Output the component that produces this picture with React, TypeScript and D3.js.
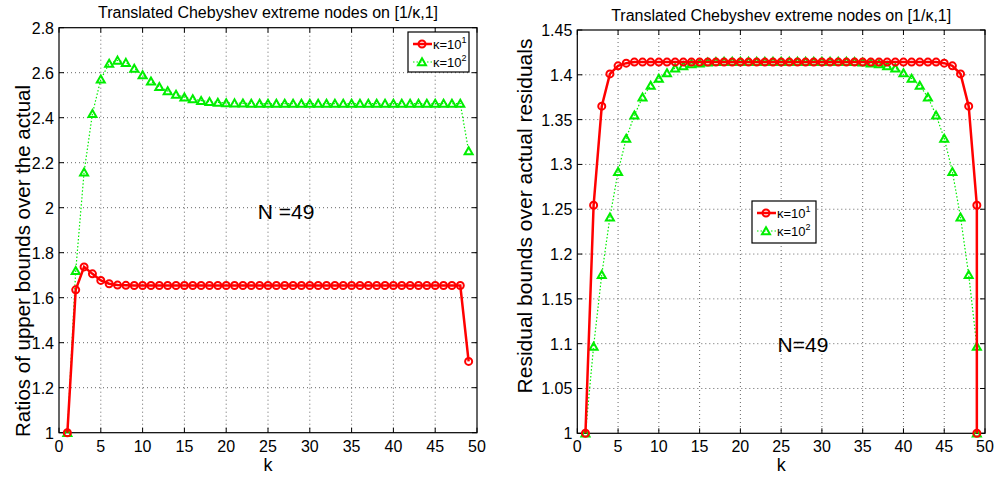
import React from 'react'
import * as d3 from 'd3'

const FONT = '"Liberation Sans", Arial, Helvetica, sans-serif'

// x positions (k)
const leftK = d3.range(1, 50)
const rightK = [...d3.range(1, 50), 49]

// left panel: ratios of upper bounds over the actual
const leftKappa10 = [
  1.0, 1.635, 1.737, 1.706, 1.677, 1.662, 1.656, 1.655, 1.654, 1.654,
  1.654, 1.654, 1.654, 1.654, 1.654, 1.654, 1.654, 1.654, 1.654, 1.654,
  1.654, 1.654, 1.654, 1.654, 1.654, 1.654, 1.654, 1.654, 1.654, 1.654,
  1.654, 1.654, 1.654, 1.654, 1.654, 1.654, 1.654, 1.654, 1.654, 1.654,
  1.654, 1.654, 1.654, 1.654, 1.654, 1.654, 1.654, 1.654, 1.317,
]
const leftKappa100 = [
  1.0, 1.72, 2.158, 2.418, 2.571, 2.641, 2.655, 2.645, 2.619, 2.59,
  2.562, 2.538, 2.519, 2.503, 2.491, 2.483, 2.476, 2.471, 2.468, 2.466,
  2.465, 2.464, 2.463, 2.463, 2.463, 2.463, 2.463, 2.463, 2.463, 2.463,
  2.463, 2.463, 2.463, 2.463, 2.463, 2.463, 2.463, 2.463, 2.463, 2.463,
  2.463, 2.463, 2.463, 2.463, 2.463, 2.463, 2.463, 2.463, 2.252,
]
const leftYTicks = [1, 1.2, 1.4, 1.6, 1.8, 2, 2.2, 2.4, 2.6, 2.8]

// right panel: residual bounds over actual residuals
const rightKappa10 = [
  1.0, 1.2545, 1.365, 1.401, 1.41, 1.413, 1.4142, 1.4142, 1.4142, 1.4142,
  1.4142, 1.4142, 1.4142, 1.4142, 1.4142, 1.4142, 1.4142, 1.4142, 1.4142, 1.4142,
  1.4142, 1.4142, 1.4142, 1.4142, 1.4142, 1.4142, 1.4142, 1.4142, 1.4142, 1.4142,
  1.4142, 1.4142, 1.4142, 1.4142, 1.4142, 1.4142, 1.4142, 1.4142, 1.4142, 1.4142,
  1.4142, 1.4142, 1.4142, 1.4142, 1.413, 1.41, 1.401, 1.365, 1.2545, 1.0,
]
const rightKappa100 = [
  1.0, 1.097, 1.177, 1.241, 1.292, 1.329, 1.355, 1.375, 1.388, 1.396,
  1.402, 1.4075, 1.41, 1.412, 1.413, 1.414, 1.4145, 1.415, 1.415, 1.415,
  1.415, 1.415, 1.415, 1.415, 1.415, 1.415, 1.415, 1.415, 1.415, 1.415,
  1.415, 1.415, 1.415, 1.4145, 1.414, 1.413, 1.412, 1.41, 1.4075, 1.402,
  1.396, 1.388, 1.375, 1.355, 1.329, 1.292, 1.241, 1.177, 1.097, 1.0,
]
const rightYTicks = [1, 1.05, 1.1, 1.15, 1.2, 1.25, 1.3, 1.35, 1.4, 1.45]

const xTicks = [0, 5, 10, 15, 20, 25, 30, 35, 40, 45, 50]
const title = 'Translated Chebyshev extreme nodes on [1/\u03ba,1]'

const RED = '#ff0000'
const GREEN = '#00ee00'

const tri = 'M0,-3.7L4,3.3L-4,3.3Z'

function Legend({ x, y, w, h }) {
  return (
    <g transform={`translate(${x},${y})`} fontFamily={FONT}>
      <rect width={w} height={h} fill="#fff" stroke="#000" strokeWidth={1.2} />
      <line x1={5} x2={24} y1={12} y2={12} stroke={RED} strokeWidth={2.5} />
      <circle cx={14} cy={12} r={3.5} fill="none" stroke={RED} strokeWidth={2} />
      <text x={25} y={17} fontSize={13}>
        {'\u03ba=10'}
        <tspan fontSize={9} dy={-6}>1</tspan>
      </text>
      <line x1={5} x2={24} y1={30} y2={30} stroke={GREEN} strokeWidth={1.2} strokeDasharray="1.5,2" />
      <path d={tri} transform={`translate(14,30)`} fill="none" stroke={GREEN} strokeWidth={2} />
      <text x={25} y={35} fontSize={13}>
        {'\u03ba=10'}
        <tspan fontSize={9} dy={-6}>2</tspan>
      </text>
    </g>
  )
}

function Panel({ x0, x1, yTop, yBot, yDomain, yTicks, k10, v10, k100, v100, yLabel, yLabelX, yLabelY, yLabelSize, titleY, legend, note }) {
  const x = d3.scaleLinear().domain([0, 50]).range([x0, x1])
  const y = d3.scaleLinear().domain(yDomain).range([yBot, yTop])
  const line = d3.line<[number, number]>().x(d => x(d[0])).y(d => y(d[1]))
  const redPts = k10.map((k, i) => [k, v10[i]] as [number, number])
  const greenPts = k100.map((k, i) => [k, v100[i]] as [number, number])
  const cx = (x0 + x1) / 2
  return (
    <g fontFamily={FONT}>
      {/* grid */}
      {xTicks.slice(1, -1).map(t => (
        <line key={'gx' + t} x1={x(t)} x2={x(t)} y1={yTop} y2={yBot} stroke="#666" strokeWidth={1} strokeDasharray="1,3" />
      ))}
      {yTicks.slice(1, -1).map(t => (
        <line key={'gy' + t} x1={x0} x2={x1} y1={y(t)} y2={y(t)} stroke="#666" strokeWidth={1} strokeDasharray="1,3" />
      ))}
      {/* ticks */}
      {xTicks.map(t => (
        <g key={'tx' + t}>
          <line x1={x(t)} x2={x(t)} y1={yBot} y2={yBot - 5} stroke="#000" />
          <line x1={x(t)} x2={x(t)} y1={yTop} y2={yTop + 5} stroke="#000" />
          <text x={x(t)} y={yBot + 19} fontSize={16} textAnchor="middle">{t}</text>
        </g>
      ))}
      {yTicks.map(t => (
        <g key={'ty' + t}>
          <line x1={x0} x2={x0 + 5} y1={y(t)} y2={y(t)} stroke="#000" />
          <line x1={x1} x2={x1 - 5} y1={y(t)} y2={y(t)} stroke="#000" />
          <text x={x0 - 5} y={y(t) + 6} fontSize={16} textAnchor="end">{String(t)}</text>
        </g>
      ))}
      <rect x={x0} y={yTop} width={x1 - x0} height={yBot - yTop} fill="none" stroke="#000" strokeWidth={1.2} />
      {/* green series */}
      <path d={line(greenPts)} fill="none" stroke={GREEN} strokeWidth={1.2} strokeDasharray="1.5,2" />
      {greenPts.map((p, i) => (
        <path key={'g' + i} d={tri} transform={`translate(${x(p[0])},${y(p[1])})`} fill="none" stroke={GREEN} strokeWidth={2} />
      ))}
      {/* red series */}
      <path d={line(redPts)} fill="none" stroke={RED} strokeWidth={2.5} />
      {redPts.map((p, i) => (
        <circle key={'r' + i} cx={x(p[0])} cy={y(p[1])} r={3.5} fill="none" stroke={RED} strokeWidth={2} />
      ))}
      {/* labels */}
      <text x={cx} y={titleY} fontSize={16} textAnchor="middle">{title}</text>
      <text x={cx} y={471} fontSize={18} textAnchor="middle">k</text>
      <text transform={`translate(${yLabelX},${yLabelY}) rotate(-90)`} fontSize={yLabelSize} textAnchor="middle">{yLabel}</text>
      <text x={note.x} y={note.y} fontSize={21} textAnchor="middle">{note.text}</text>
      <Legend x={legend.x} y={legend.y} w={legend.w} h={legend.h} />
    </g>
  )
}

export default function App() {
  return (
    <svg width={999} height={477} style={{ position: 'absolute', left: 0, top: 0, background: '#fff' }}>
      <rect width={999} height={477} fill="#fff" />
      <Panel
        x0={59} x1={477} yTop={27.7} yBot={432.7}
        yDomain={[1, 2.8]} yTicks={leftYTicks}
        k10={leftK} v10={leftKappa10} k100={leftK} v100={leftKappa100}
        yLabel="Ratios of upper bounds over the actual"
        yLabelX={30} yLabelY={261} yLabelSize={20.5}
        titleY={18}
        legend={{ x: 408, y: 32, w: 61, h: 40 }}
        note={{ x: 286, y: 219, text: 'N =49' }}
      />
      <Panel
        x0={577.3} x1={985} yTop={30} yBot={433.3}
        yDomain={[1, 1.45]} yTicks={rightYTicks}
        k10={rightK} v10={rightKappa10} k100={rightK} v100={rightKappa100}
        yLabel="Residual bounds over actual residuals"
        yLabelX={532} yLabelY={216} yLabelSize={21}
        titleY={21}
        legend={{ x: 752, y: 201, w: 64, h: 42 }}
        note={{ x: 803, y: 352, text: 'N=49' }}
      />
    </svg>
  )
}
